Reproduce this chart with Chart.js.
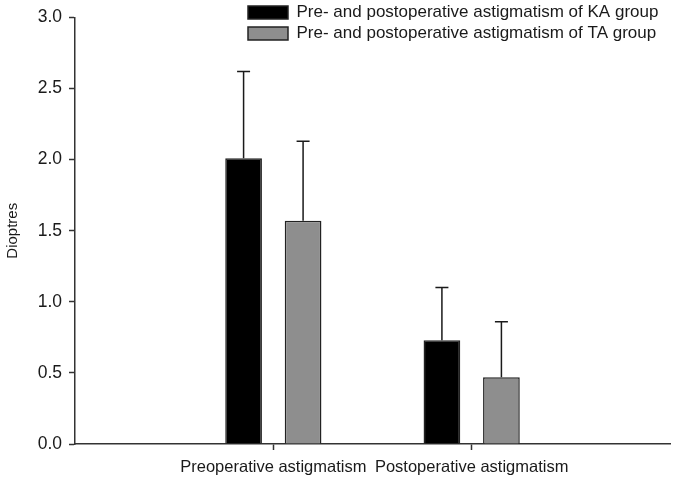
<!DOCTYPE html>
<html>
<head>
<meta charset="utf-8">
<script src="https://cdn.jsdelivr.net/npm/chart.js@4"></script>
<style>
  html, body { margin: 0; padding: 0; background: #fff; }
  #wrap { width: 678px; height: 482px; position: relative; }
</style>
</head>
<body>
<div id="wrap"><canvas id="c" width="678" height="482"></canvas></div>
<script>
// ---- data ----
const categories = ['', 'Preoperative astigmatism', 'Postoperative astigmatism', ''];
const seriesNames = ['Pre- and postoperative astigmatism of KA group', 'Pre- and postoperative astigmatism of TA group'];
const kaMean = [null, 2.01, 0.73, null];
const kaSD   = [null, 0.61, 0.37, null];
const taMean = [null, 1.57, 0.47, null];
const taSD   = [null, 0.56, 0.39, null];
const yMin = 0, yMax = 3.0, yStep = 0.5;
const yTitle = 'Dioptres';

const FONT = '"Liberation Sans", Arial, Helvetica, sans-serif';
const INK = '#1a1a1a';
const AXIS = '#333333';

const errorBars = {
  id: 'errorBars',
  afterDatasetsDraw(chart) {
    const ctx = chart.ctx;
    const ys = chart.scales.y;
    chart.data.datasets.forEach((ds, di) => {
      const meta = chart.getDatasetMeta(di);
      meta.data.forEach((bar, i) => {
        const m = ds.data[i], sd = ds.sd[i];
        if (m == null || sd == null) return;
        const x = bar.x;
        const yTop = ys.getPixelForValue(m + sd);
        const yBase = bar.y;
        ctx.save();
        ctx.strokeStyle = INK;
        ctx.lineWidth = 1.5;
        ctx.beginPath();
        ctx.moveTo(x, yBase);
        ctx.lineTo(x, yTop);
        ctx.moveTo(x - 6.5, yTop);
        ctx.lineTo(x + 6.5, yTop);
        ctx.stroke();
        ctx.restore();
      });
    });
  }
};

const legendPlace = {
  id: 'legendPlace',
  afterLayout(chart) {
    const lg = chart.legend;
    if (!lg) return;
    const w = lg.width, h = lg.height;
    lg.left = 244; lg.top = 0;
    lg.right = lg.left + w; lg.bottom = lg.top + h;
  }
};

new Chart(document.getElementById('c'), {
  type: 'bar',
  data: {
    labels: categories,
    datasets: [
      { label: seriesNames[0], data: kaMean, sd: kaSD,
        backgroundColor: '#000000', borderColor: '#222222', borderWidth: 1.5,
        categoryPercentage: 0.6, barPercentage: 0.617 },
      { label: seriesNames[1], data: taMean, sd: taSD,
        backgroundColor: '#8e8e8e', borderColor: '#222222', borderWidth: 1.5,
        categoryPercentage: 0.6, barPercentage: 0.617 }
    ]
  },
  options: {
    responsive: false,
    animation: false,
    layout: { padding: { top: 14, right: 3, left: 0, bottom: 0 } },
    plugins: {
      tooltip: { enabled: false },
      legend: {
        position: 'chartArea',
        align: 'start',
        labels: {
          boxWidth: 40, boxHeight: 13, padding: 4,
          color: INK,
          font: { family: FONT, size: 17 }
        }
      }
    },
    scales: {
      x: {
        offset: false,
        grid: {
          offset: false,
          drawOnChartArea: false,
          drawTicks: true,
          tickLength: 6,
          tickWidth: 1.5,
          tickColor: (c) => (c.index === 1 || c.index === 2) ? AXIS : 'rgba(0,0,0,0)'
        },
        border: { display: true, color: AXIS, width: 1.5 },
        ticks: {
          color: INK, padding: 8, maxRotation: 0, autoSkip: false,
          font: { family: FONT, size: 16.5 }
        },
        afterFit(s) { s.height = 38; }
      },
      y: {
        min: yMin, max: yMax,
        grid: { drawOnChartArea: false, tickLength: 6, tickWidth: 1.5, tickColor: AXIS },
        border: { display: true, color: AXIS, width: 1.5 },
        ticks: {
          stepSize: yStep, color: INK, padding: 7,
          font: { family: FONT, size: 17.5 },
          callback: (v) => Number(v).toFixed(1)
        },
        title: {
          display: true, text: yTitle, color: INK,
          font: { family: FONT, size: 15 },
          padding: { top: 4, bottom: 0 }
        },
        afterFit(s) { s.width = 75; }
      }
    }
  },
  plugins: [errorBars, legendPlace]
});
</script>
</body>
</html>
